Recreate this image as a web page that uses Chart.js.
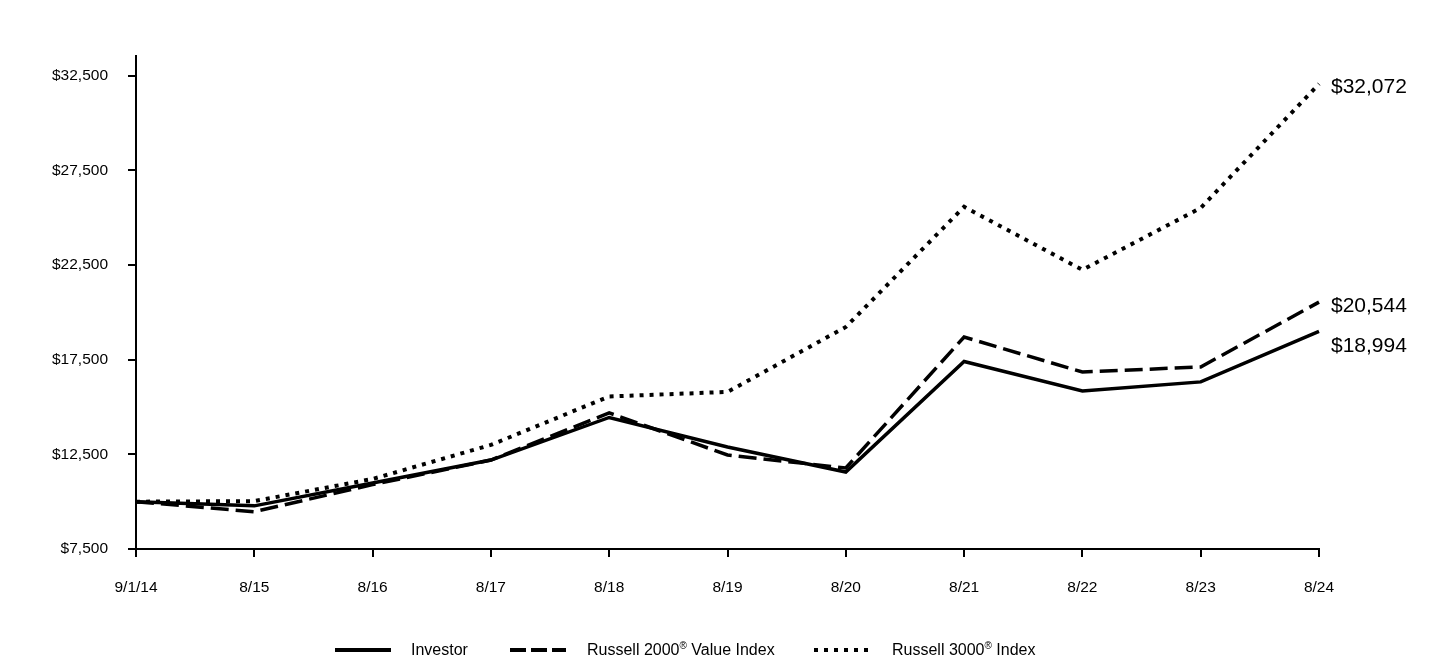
<!DOCTYPE html>
<html>
<head>
<meta charset="utf-8">
<script src="https://cdn.jsdelivr.net/npm/chart.js@4.4.1/dist/chart.umd.min.js"></script>
<style>
  html, body { margin: 0; padding: 0; background: #fff; }
  #wrap { position: relative; width: 1440px; height: 660px; }
  #c { position: absolute; left: 0; top: 0; }
  .leg { position: absolute; top: 640px; height: 20px; font-family: "Liberation Sans", Arial, sans-serif; font-size: 16px; color: #000; line-height: 20px; white-space: nowrap; }
  .leg svg { position: absolute; top: 0; }
  .leg sup { font-size: 10px; line-height: 0; vertical-align: 6px; }
</style>
</head>
<body>
<div id="wrap">
  <canvas id="c" width="1440" height="660"></canvas>
  <div class="leg" style="left:335px;"><svg width="60" height="20" style="left:0"><line x1="0" y1="10" x2="56" y2="10" stroke="#000" stroke-width="4"/></svg><span style="position:absolute;left:76px;">Investor</span></div>
  <div class="leg" style="left:510px;"><svg width="60" height="20" style="left:0"><line x1="0" y1="10" x2="56" y2="10" stroke="#000" stroke-width="4" stroke-dasharray="16,5"/></svg><span style="position:absolute;left:77px;">Russell 2000<sup>®</sup> Value Index</span></div>
  <div class="leg" style="left:814px;"><svg width="60" height="20" style="left:0"><line x1="0" y1="10" x2="56" y2="10" stroke="#000" stroke-width="4" stroke-dasharray="4,6"/></svg><span style="position:absolute;left:78px;">Russell 3000<sup>®</sup> Index</span></div>
</div>
<script>
const categories = ["9/1/14", "8/15", "8/16", "8/17", "8/18", "8/19", "8/20", "8/21", "8/22", "8/23", "8/24"];
const investor = [10000, 9780, 10990, 12200, 14450, 12890, 11570, 17410, 15850, 16330, 18994];
const russell2000Value = [10000, 9470, 10900, 12200, 14690, 12470, 11780, 18700, 16850, 17120, 20544];
const russell3000 = [10000, 10030, 11200, 13000, 15560, 15800, 19230, 25580, 22250, 25520, 32072];
const yTicks = [7500, 12500, 17500, 22500, 27500, 32500];
const endLabels = ["$18,994", "$20,544", "$32,072"];
const endLabelOffsets = [15, 4, 3];

const FONT = '"Liberation Sans", Arial, sans-serif';

const endLabelPlugin = {
  id: 'endLabels',
  afterDatasetsDraw(chart) {
    const ctx = chart.ctx;
    ctx.save();
    ctx.font = '21px ' + FONT;
    ctx.fillStyle = '#000';
    ctx.textAlign = 'left';
    ctx.textBaseline = 'middle';
    chart.data.datasets.forEach((ds, i) => {
      const meta = chart.getDatasetMeta(i);
      const pt = meta.data[meta.data.length - 1];
      ctx.fillText(endLabels[i], pt.x + 12, pt.y + endLabelOffsets[i]);
    });
    ctx.restore();
  }
};

new Chart(document.getElementById('c'), {
  type: 'line',
  data: {
    labels: categories,
    datasets: [
      { label: 'Investor', data: investor, borderColor: '#000', borderWidth: 3.5, pointRadius: 0, tension: 0, fill: false },
      { label: 'Russell 2000® Value Index', data: russell2000Value, borderColor: '#000', borderWidth: 3.5, borderDash: [18, 7], pointRadius: 0, tension: 0, fill: false },
      { label: 'Russell 3000® Index', data: russell3000, borderColor: '#000', borderWidth: 4, borderDash: [4, 6], pointRadius: 0, tension: 0, fill: false }
    ]
  },
  options: {
    responsive: false,
    animation: false,
    events: [],
    layout: { padding: { left: 0, right: 121, top: 56, bottom: 0 } },
    plugins: { legend: { display: false }, tooltip: { enabled: false } },
    scales: {
      x: {
        offset: false,
        grid: { display: true, drawOnChartArea: false, drawTicks: true, tickLength: 8, color: '#000', lineWidth: 2 },
        border: { display: true, color: '#000', width: 2 },
        ticks: { color: '#000', font: { family: FONT, size: 15.5 }, padding: 21, maxRotation: 0, autoSkip: false },
        afterFit(scale) { scale.height = 111; }
      },
      y: {
        min: 7500,
        max: 33550,
        grid: { display: true, drawOnChartArea: false, drawTicks: true, tickLength: 8, color: '#000', lineWidth: 2 },
        border: { display: true, color: '#000', width: 2 },
        ticks: {
          color: '#000', font: { family: FONT, size: 15.5 }, padding: 20,
          callback: (v) => '$' + Number(v).toLocaleString('en-US')
        },
        afterBuildTicks(scale) { scale.ticks = yTicks.map(v => ({ value: v })); },
        afterFit(scale) { scale.width = 136; }
      }
    }
  },
  plugins: [endLabelPlugin]
});
</script>
</body>
</html>
